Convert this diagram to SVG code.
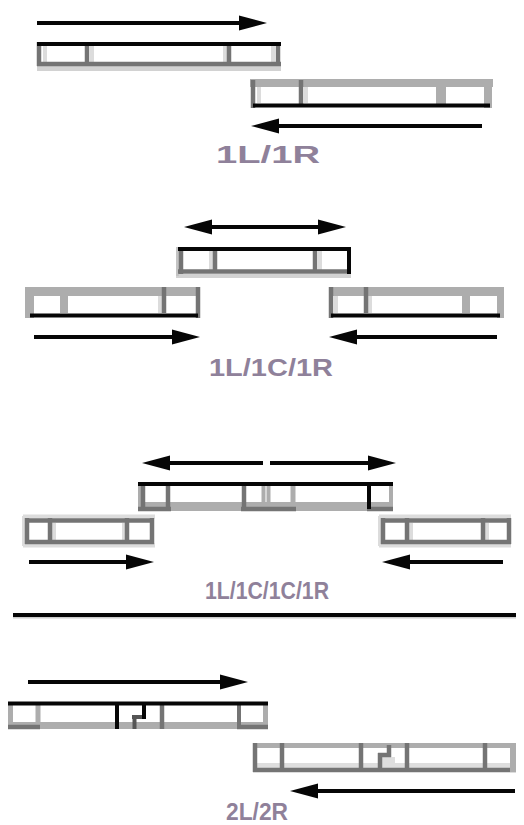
<svg xmlns="http://www.w3.org/2000/svg" width="524" height="825" viewBox="0 0 524 825">
<style>
.k{stroke:#060606;stroke-width:4;fill:none}
.d{stroke:#747474;stroke-width:4.5;fill:none}
.l{stroke:#adadad;stroke-width:5;fill:none}
.f{stroke:#dcdcdc;stroke-width:4;fill:none}
.band{fill:#adadad}
.sh{fill:#d2d2d2}
.arr{stroke:#060606;stroke-width:4;fill:none;marker-end:url(#ah)}
.lab{font-family:"Liberation Sans",Arial,sans-serif;font-size:24px;font-weight:bold;fill:#8f819a;text-anchor:middle}
</style>
<defs>
<marker id="ah" markerUnits="userSpaceOnUse" markerWidth="30" markerHeight="18" refX="6" refY="8" orient="auto-start-reverse" overflow="visible">
<path d="M0,0.5 L28,8 L0,15.5 Z" fill="#060606"/>
</marker>
</defs>
<rect width="524" height="825" fill="#fff"/>

<g id="bar-p1-left">
<rect class="sh" x="37" y="66" width="244" height="5"/>
<line class="f" x1="45" y1="46" x2="45" y2="62"/>
<line class="f" x1="92" y1="46" x2="92" y2="62"/>
<line class="f" x1="225" y1="46" x2="225" y2="62"/>
<line class="f" x1="273" y1="46" x2="273" y2="62"/>
<line class="d" x1="39" y1="42" x2="39" y2="66"/>
<line class="d" x1="87" y1="42" x2="87" y2="66"/>
<line class="d" x1="229" y1="42" x2="229" y2="66"/>
<line class="d" x1="278" y1="42" x2="278" y2="66"/>
<line class="d" x1="37" y1="64" x2="281" y2="64"/>
<line class="k" x1="37" y1="44" x2="281" y2="44"/>
</g>

<g id="bar-p1-right">
<rect class="band" x="250" y="79" width="243" height="8"/>
<line class="f" x1="259" y1="87" x2="259" y2="103"/>
<line class="f" x1="306" y1="87" x2="306" y2="103"/>
<line class="d" x1="253" y1="80" x2="253" y2="108"/>
<line class="d" x1="301" y1="80" x2="301" y2="104"/>
<line class="l" x1="441" y1="79" x2="441" y2="104" style="stroke-width:10"/>
<line class="l" x1="488" y1="79" x2="488" y2="108" style="stroke-width:8"/>
<line class="k" x1="253" y1="105.5" x2="490" y2="105.5"/>
</g>

<g id="label-1l1r">
<text class="lab" x="268" y="163" textLength="104" lengthAdjust="spacingAndGlyphs">1L/1R</text>
</g>

<g id="bar-p2-center">
<rect class="sh" x="176" y="274" width="175" height="4"/>
<line class="f" x1="211" y1="251" x2="211" y2="270"/>
<line class="f" x1="320" y1="251" x2="320" y2="270"/>
<line stroke="#c4c4c4" stroke-width="3" x1="177.5" y1="247" x2="177.5" y2="276"/>
<line class="d" x1="181" y1="247" x2="181" y2="274"/>
<line class="d" x1="215" y1="249" x2="215" y2="273"/>
<line class="d" x1="315" y1="249" x2="315" y2="273"/>
<line class="d" x1="178" y1="271.5" x2="349" y2="271.5"/>
<line class="k" x1="349" y1="247" x2="349" y2="274"/>
<line class="k" x1="178" y1="249" x2="351" y2="249"/>
</g>

<g id="bar-p2-left">
<rect class="band" x="25" y="287" width="175" height="9"/>
<line class="f" x1="160" y1="296" x2="160" y2="313"/>
<line class="l" x1="29.5" y1="287" x2="29.5" y2="318" style="stroke-width:9"/>
<line class="l" x1="64" y1="287" x2="64" y2="313" style="stroke-width:8"/>
<line class="d" x1="164" y1="287" x2="164" y2="313"/>
<line class="d" x1="198" y1="287" x2="198" y2="318"/>
<line class="k" x1="30" y1="315.5" x2="198" y2="315.5"/>
</g>

<g id="bar-p2-right">
<rect class="band" x="329" y="287" width="175" height="9"/>
<line class="f" x1="336" y1="296" x2="336" y2="313"/>
<line class="f" x1="370" y1="296" x2="370" y2="313"/>
<line class="d" x1="331" y1="287" x2="331" y2="318"/>
<line class="d" x1="366" y1="287" x2="366" y2="313"/>
<line class="l" x1="466" y1="287" x2="466" y2="313" style="stroke-width:8"/>
<line class="l" x1="500.5" y1="287" x2="500.5" y2="318" style="stroke-width:7"/>
<line class="k" x1="331" y1="315.5" x2="500" y2="315.5"/>
</g>

<g id="label-1l1c1r">
<text class="lab" x="271" y="376" textLength="124" lengthAdjust="spacingAndGlyphs">1L/1C/1R</text>
</g>

<g id="bar-p3-center">
<rect class="band" x="138" y="502" width="255" height="9"/>
<line class="l" x1="139.5" y1="482" x2="139.5" y2="511" style="stroke-width:3"/>
<line class="d" x1="143" y1="482" x2="143" y2="511"/>
<line class="d" x1="168" y1="484" x2="168" y2="511"/>
<line class="d" x1="244" y1="484" x2="244" y2="511"/>
<line class="l" x1="263.5" y1="484" x2="263.5" y2="511" style="stroke-width:4"/>
<line class="l" x1="268.5" y1="484" x2="268.5" y2="511" style="stroke-width:4"/>
<line class="l" x1="293" y1="484" x2="293" y2="511"/>
<line class="l" x1="391" y1="484" x2="391" y2="511" style="stroke-width:4"/>
<line class="d" x1="138" y1="509" x2="171" y2="509"/>
<line class="d" x1="241" y1="509" x2="296" y2="509"/>
<line class="d" x1="367" y1="509" x2="393" y2="509"/>
<line class="k" x1="369" y1="484" x2="369" y2="509"/>
<line class="k" x1="138" y1="484" x2="393" y2="484"/>
</g>

<g id="bar-p3-left">
<line class="f" x1="23" y1="516.5" x2="155" y2="516.5"/>
<line class="f" x1="23" y1="545.5" x2="155" y2="545.5"/>
<line class="f" x1="24" y1="516" x2="24" y2="546"/>
<line class="f" x1="54" y1="523" x2="54" y2="540"/>
<line class="f" x1="124" y1="523" x2="124" y2="540"/>
<line class="d" x1="25" y1="520.5" x2="154" y2="520.5"/>
<line class="d" x1="25" y1="542" x2="154" y2="542"/>
<line class="d" x1="27" y1="518" x2="27" y2="544"/>
<line class="d" x1="50" y1="518" x2="50" y2="544"/>
<line class="d" x1="127" y1="518" x2="127" y2="544"/>
<line class="d" x1="152" y1="518" x2="152" y2="544"/>
</g>

<g id="bar-p3-right">
<line class="f" x1="379" y1="516.5" x2="511" y2="516.5"/>
<line class="f" x1="379" y1="545.5" x2="511" y2="545.5"/>
<line class="f" x1="380" y1="516" x2="380" y2="546"/>
<line class="f" x1="411" y1="523" x2="411" y2="540"/>
<line class="f" x1="487" y1="523" x2="487" y2="540"/>
<line class="d" x1="381" y1="520.5" x2="511" y2="520.5"/>
<line class="d" x1="381" y1="542" x2="511" y2="542"/>
<line class="d" x1="383" y1="518" x2="383" y2="544"/>
<line class="d" x1="407" y1="518" x2="407" y2="544"/>
<line class="d" x1="483" y1="518" x2="483" y2="544"/>
<line class="d" x1="509" y1="518" x2="509" y2="544"/>
</g>

<g id="label-1l1c1c1r">
<text class="lab" x="267" y="599" textLength="124" lengthAdjust="spacingAndGlyphs">1L/1C/1C/1R</text>
</g>

<g id="separator">
<line x1="13" y1="615" x2="516" y2="615" stroke="#060606" stroke-width="4"/>
<line x1="13" y1="617.8" x2="516" y2="617.8" stroke="#cccccc" stroke-width="1.5"/>
</g>

<g id="bar-p4-left">
<rect class="band" x="8" y="722" width="260" height="7"/>
<line class="l" x1="10.5" y1="702" x2="10.5" y2="729"/>
<line class="l" x1="38" y1="702" x2="38" y2="729"/>
<line class="d" x1="162" y1="704" x2="162" y2="729"/>
<line class="d" x1="239" y1="704" x2="239" y2="729" style="stroke-width:4"/>
<line class="l" x1="265.5" y1="702" x2="265.5" y2="729"/>
<line class="d" x1="8" y1="727" x2="40" y2="727"/>
<line class="d" x1="237" y1="727" x2="268" y2="727"/>
<line x1="132" y1="717" x2="146" y2="717" stroke="#555" stroke-width="4"/>
<line x1="134.5" y1="715" x2="134.5" y2="729" stroke="#555" stroke-width="4"/>
<line class="k" x1="144" y1="704" x2="144" y2="719"/>
<line class="k" x1="117" y1="702" x2="117" y2="729"/>
<line class="k" x1="8" y1="703.5" x2="268" y2="703.5"/>
</g>

<g id="bar-p4-right">
<rect class="band" x="253" y="743" width="263" height="5"/>
<rect x="257" y="763" width="259" height="5" fill="#dedede"/>
<rect x="382" y="757" width="13" height="11" fill="#dedede"/>
<line class="d" x1="253" y1="770" x2="516" y2="770"/>
<line class="d" x1="255" y1="743" x2="255" y2="772"/>
<line class="d" x1="282" y1="743" x2="282" y2="772"/>
<line class="d" x1="361" y1="743" x2="361" y2="772"/>
<line class="d" x1="389" y1="745" x2="389" y2="757"/>
<line class="d" x1="378" y1="755" x2="391" y2="755"/>
<line class="d" x1="380" y1="753" x2="380" y2="771"/>
<line class="d" x1="407" y1="743" x2="407" y2="772"/>
<line class="d" x1="485" y1="743" x2="485" y2="772"/>
<line class="l" x1="513" y1="743" x2="513" y2="772" style="stroke-width:6"/>
</g>

<g id="label-2l2r">
<text class="lab" x="257" y="820" textLength="62" lengthAdjust="spacingAndGlyphs">2L/2R</text>
</g>

<g id="connectors">
<line class="arr" x1="37" y1="23" x2="245" y2="23"/>
<line class="arr" x1="482" y1="126" x2="273" y2="126"/>
<line class="arr" x1="206" y1="227" x2="324" y2="227" style="marker-start:url(#ah)"/>
<line class="arr" x1="34" y1="337" x2="178" y2="337"/>
<line class="arr" x1="497" y1="337" x2="351" y2="337"/>
<line class="arr" x1="263" y1="463" x2="164" y2="463"/>
<line class="arr" x1="270" y1="463" x2="374" y2="463"/>
<line class="arr" x1="29" y1="562" x2="132" y2="562"/>
<line class="arr" x1="503" y1="562" x2="404" y2="562"/>
<line class="arr" x1="28" y1="682" x2="226" y2="682"/>
<line class="arr" x1="515" y1="791" x2="312" y2="791"/>
</g>
</svg>
